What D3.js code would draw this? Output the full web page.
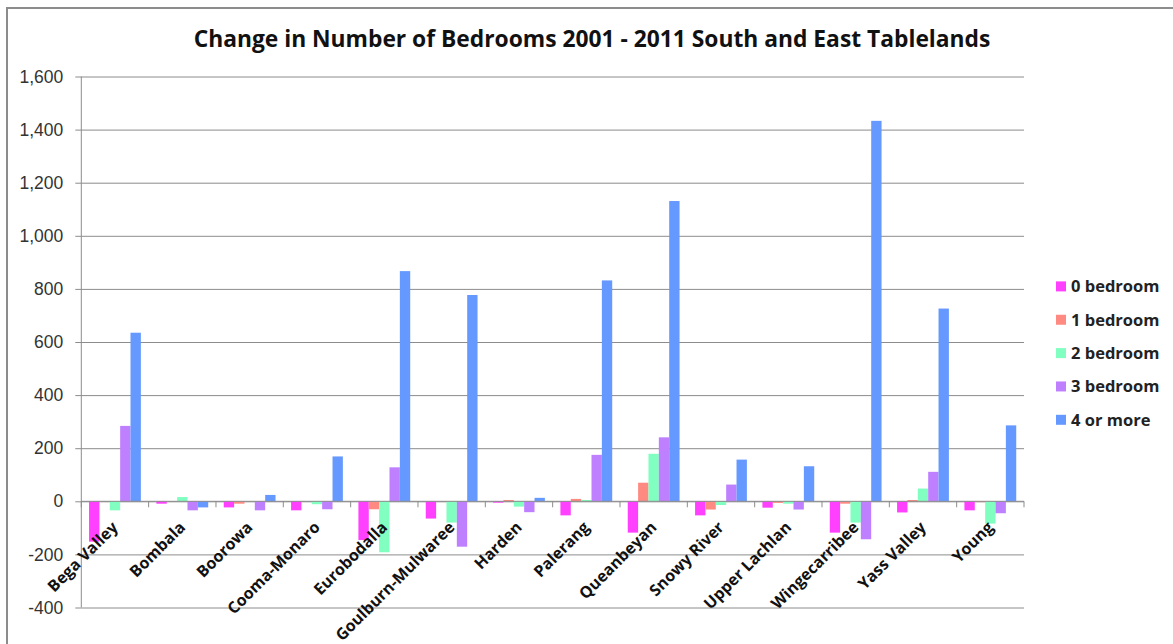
<!DOCTYPE html>
<html>
<head>
<meta charset="utf-8">
<script src="https://cdn.jsdelivr.net/npm/d3@7"></script>
<style>
  body { margin: 0; background: #fff; }
  svg { display: block; font-family: "Open Sans", sans-serif; }
</style>
</head>
<body>
<div id="chart"></div>
<script>
// council areas along the x axis
const councils = ["Bega Valley", "Bombala", "Boorowa", "Cooma-Monaro", "Eurobodalla",
  "Goulburn-Mulwaree", "Harden", "Palerang", "Queanbeyan", "Snowy River",
  "Upper Lachlan", "Wingecarribee", "Yass Valley", "Young"];

const seriesNames = ["0 bedroom", "1 bedroom", "2 bedroom", "3 bedroom", "4 or more"];

// change in dwellings 2001 - 2011
const bed0 = [-152, -9, -23, -34, -146, -65, -5, -53, -118, -53, -24, -118, -42, -34];
const bed1 = [0, 0, -9, 0, -30, 0, 5, 9, 70, -31, -6, -9, 5, -3];
const bed2 = [-34, 16, 0, -11, -192, -80, -20, 5, 179, -14, -9, -80, 48, -84];
const bed3 = [284, -34, -34, -30, 128, -171, -41, 175, 241, 63, -31, -143, 111, -45];
const bed4 = [635, -23, 24, 169, 867, 777, 13, 832, 1131, 157, 132, 1433, 726, 286];

const yTicks = [-400, -200, 0, 200, 400, 600, 800, 1000, 1200, 1400, 1600];

const colors = ["#ff40ff", "#ff8a82", "#80ffc0", "#bf80ff", "#6699ff"];

const allSeries = [bed0, bed1, bed2, bed3, bed4];

const W = 1173, H = 644;
const plotLeft = 81.3, plotRight = 1024, plotTop = 76.5, plotBottom = 607.5;

const svg = d3.select("#chart").append("svg")
  .attr("width", W).attr("height", H);

svg.append("rect").attr("width", W).attr("height", H).attr("fill", "#fff");

// chart frame (runs off the right and bottom of the picture)
svg.append("rect")
  .attr("x", 7).attr("y", 8)
  .attr("width", 1200).attr("height", 700)
  .attr("fill", "none")
  .attr("stroke", "#8c8c8c")
  .attr("stroke-width", 2);

svg.append("text")
  .attr("x", 592).attr("y", 47)
  .attr("text-anchor", "middle")
  .style("font-weight", "bold")
  .style("font-size", "22.8px")
  .attr("fill", "#111")
  .text("Change in Number of Bedrooms 2001 - 2011 South and East Tablelands");

const y = d3.scaleLinear().domain([-400, 1600]).range([plotBottom, plotTop]);
const x = d3.scaleBand().domain(councils).range([plotLeft, plotRight]).padding(0);
const xs = d3.scaleBand().domain(seriesNames).range([0, x.bandwidth()])
  .paddingInner(0).paddingOuter(0.75);

// gridlines
svg.append("g")
  .attr("transform", "translate(" + plotLeft + ",0)")
  .call(d3.axisLeft(y).tickValues(yTicks).tickSize(-(plotRight - plotLeft)).tickFormat(""))
  .call(g => g.select(".domain").remove())
  .selectAll("line").attr("stroke", "#8c8c8c");

// y axis with small ticks and labels
const fmt = d3.format(",");
const yAxis = svg.append("g")
  .attr("transform", "translate(" + plotLeft + ",0)")
  .call(d3.axisLeft(y).tickValues(yTicks).tickSize(6).tickPadding(12)
    .tickFormat(d => fmt(d).replace("\u2212", "-")));
yAxis.select(".domain").attr("stroke", "#8c8c8c").attr("d", "M0," + plotTop + "V" + plotBottom);
yAxis.selectAll("line").attr("stroke", "#8c8c8c");
yAxis.selectAll("text")
  .style("font-size", "17.5px")
  .attr("fill", "#333");

// bars
const groups = svg.append("g").selectAll("g")
  .data(councils)
  .join("g")
  .attr("transform", d => "translate(" + x(d) + ",0)");

groups.selectAll("rect")
  .data((d, i) => allSeries.map((s, k) => ({ name: seriesNames[k], value: s[i], k: k })))
  .join("rect")
  .attr("x", d => xs(d.name))
  .attr("width", xs.bandwidth())
  .attr("y", d => y(Math.max(0, d.value)))
  .attr("height", d => Math.abs(y(d.value) - y(0)))
  .attr("fill", d => colors[d.k]);

// category axis at zero, ticks between councils
const xAxis = svg.append("g");
xAxis.append("line")
  .attr("x1", plotLeft).attr("x2", plotRight)
  .attr("y1", y(0)).attr("y2", y(0))
  .attr("stroke", "#8c8c8c");
xAxis.selectAll("line.tick")
  .data(councils.map(c => x(c)).concat([plotRight]))
  .join("line")
  .attr("class", "tick")
  .attr("x1", d => d).attr("x2", d => d)
  .attr("y1", y(0)).attr("y2", y(0) + 6)
  .attr("stroke", "#8c8c8c");

xAxis.selectAll("text")
  .data(councils)
  .join("text")
  .attr("transform", d => "translate(" + (x(d) + x.bandwidth() / 2 + 4) + "," + (y(0) + 27) + ") rotate(-45)")
  .attr("text-anchor", "end")
  .style("font-weight", "bold")
  .style("font-size", "16px")
  .attr("fill", "#111")
  .text(d => d);

// legend
const legend = svg.append("g").selectAll("g")
  .data(seriesNames)
  .join("g")
  .attr("transform", (d, i) => "translate(1056," + (286.4 + i * 33.35) + ")");

legend.append("rect")
  .attr("x", 0).attr("y", -5)
  .attr("width", 10).attr("height", 10)
  .attr("fill", (d, i) => colors[i]);

legend.append("text")
  .attr("x", 15).attr("y", 0)
  .attr("dy", "0.36em")
  .style("font-weight", "bold")
  .style("font-size", "16.5px")
  .attr("fill", "#222")
  .text(d => d);
</script>
</body>
</html>
